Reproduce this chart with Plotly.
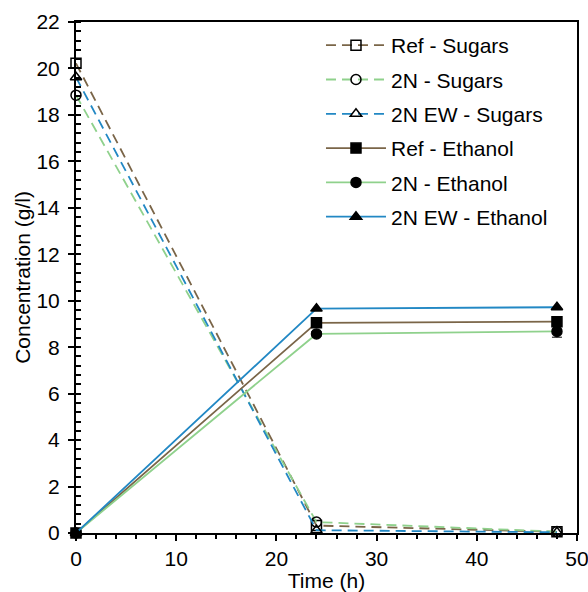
import plotly.graph_objects as go

time_h = [0, 24, 48]
ref_sugars = [20.22, 0.32, 0.05]
n2_sugars = [18.85, 0.47, 0.06]
n2ew_sugars = [19.62, 0.12, 0.03]
ref_ethanol = [0.0, 9.05, 9.1]
n2_ethanol = [0.0, 8.57, 8.68]
n2ew_ethanol = [0.0, 9.66, 9.72]
n2_ethanol_err = [0.0, 0.1, 0.25]
names = ["Ref - Sugars", "2N - Sugars", "2N EW - Sugars",
         "Ref - Ethanol", "2N - Ethanol", "2N EW - Ethanol"]

c_ref = "#7A6548"
c_2n = "#8FD18C"
c_ew = "#2288C4"

fig = go.Figure()
series = [
    (names[0], ref_sugars, c_ref, "square-open", "10px,6px", None),
    (names[1], n2_sugars, c_2n, "circle-open", "10px,6px", None),
    (names[2], n2ew_sugars, c_ew, "triangle-up-open", "10px,6px", None),
    (names[3], ref_ethanol, c_ref, "square", "solid", None),
    (names[4], n2_ethanol, c_2n, "circle", "solid", n2_ethanol_err),
    (names[5], n2ew_ethanol, c_ew, "triangle-up", "solid", None),
]
for i, (nm, ys, col, sym, dash, err) in enumerate(series):
    kw = {}
    if err is not None:
        kw["error_y"] = dict(type="data", array=err, visible=True, color="black",
                             thickness=1, width=5)
    fig.add_trace(go.Scatter(
        x=time_h, y=ys, name=nm, mode="lines+markers",
        line=dict(color=col, width=1.8, dash=dash),
        marker=dict(symbol=sym, size=10, color="black",
                    line=dict(color="black", width=1.5)),
        cliponaxis=False, legendgroup=str(i), **kw))

font = "Liberation Sans, Arial, sans-serif"
fig.update_layout(
    width=588, height=592,
    margin=dict(l=76, r=11, t=22, b=59),
    plot_bgcolor="white", paper_bgcolor="white",
    font=dict(family=font, size=21, color="black"),
    showlegend=True,
    legend=dict(x=0.489, y=0.994, xanchor="left", yanchor="top",
                font=dict(size=21), bgcolor="rgba(0,0,0,0)",
                tracegroupgap=4, itemwidth=60),
)
fig.update_xaxes(range=[0, 50], dtick=10, showgrid=False, zeroline=False,
                 automargin=False, ticklabeloverflow="allow",
                 showline=True, linecolor="black", linewidth=2, mirror=True,
                 ticks="outside", ticklen=6, tickwidth=1.5, tickcolor="black",
                 minor=dict(dtick=2, ticks="outside", ticklen=4, tickwidth=1.5,
                            tickcolor="black", showgrid=False),
                 title=dict(text="Time (h)", font=dict(size=21), standoff=4),
                 tickfont=dict(size=21))
fig.update_yaxes(range=[0, 22], dtick=2, showgrid=False, zeroline=False,
                 automargin=False, ticklabelstandoff=4,
                 showline=True, linecolor="black", linewidth=2, mirror=True,
                 ticks="outside", ticklen=6, tickwidth=1.5, tickcolor="black",
                 minor=dict(dtick=0.4, ticks="inside", ticklen=5, tickwidth=1.5,
                            tickcolor="black", showgrid=False),
                 title=dict(text="Concentration (g/l)", font=dict(size=21), standoff=0),
                 tickfont=dict(size=21))

fig.write_html("out.html")
